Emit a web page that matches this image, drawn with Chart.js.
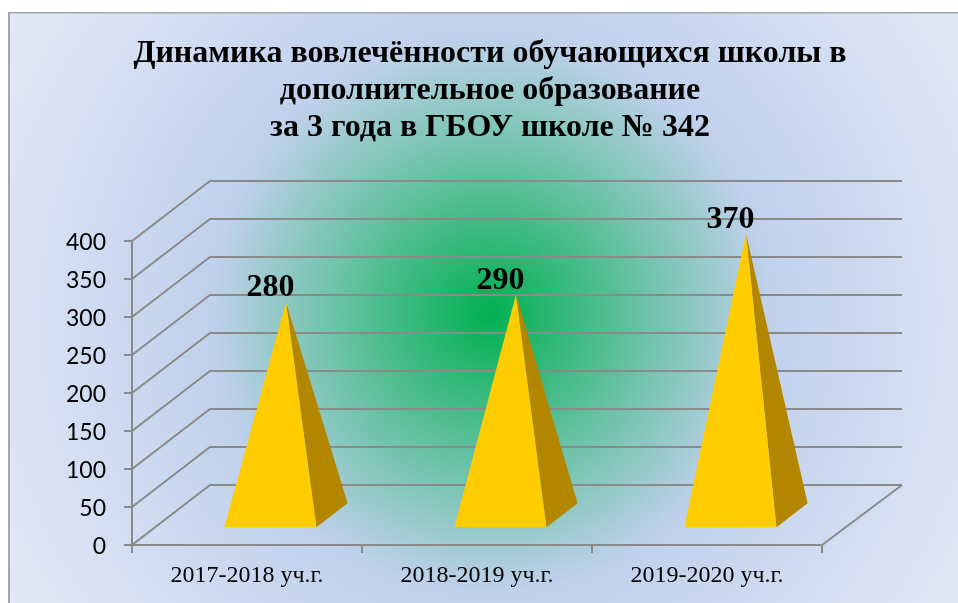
<!DOCTYPE html>
<html lang="ru">
<head>
<meta charset="utf-8">
<title>Динамика вовлечённости</title>
<script src="https://cdn.jsdelivr.net/npm/chart.js@4"></script>
<style>
  html, body { margin: 0; padding: 0; background: #fff; }
  #wrap { width: 958px; height: 603px; }
</style>
</head>
<body>
<div id="wrap"><canvas id="chart" width="958" height="603"></canvas></div>
<script>
const categories = ['2017-2018 уч.г.', '2018-2019 уч.г.', '2019-2020 уч.г.'];
const pupils = [280, 290, 370];
const titleLines = [
  'Динамика вовлечённости обучающихся школы в',
  'дополнительное образование',
  'за 3 года в ГБОУ школе № 342'
];

const COLORS = {
  grid: '#8a8a8a',
  front: '#ffcc00',
  side: '#b38600',
  frame: '#a3a7ad'
};

// oblique depth of the 3D box, px
const DEPTH_X = 78;
const DEPTH_Y = 60;

// page background + frame
const backdrop = {
  id: 'backdrop',
  // title is centred on the whole picture, not on the plot
  afterLayout(chart) {
    chart.titleBlock.left += 79;
    chart.titleBlock.right += 79;
  },
  beforeDraw(chart) {
    const { ctx } = chart;
    ctx.save();
    ctx.fillStyle = '#ffffff';
    ctx.fillRect(0, 0, 958, 603);
    const g = ctx.createRadialGradient(490, 314, 0, 490, 314, 570);
    g.addColorStop(0, '#00b050');
    g.addColorStop(0.49, '#c1d1ec');
    g.addColorStop(1, '#e3eaf6');
    ctx.fillStyle = g;
    ctx.fillRect(9, 12, 949, 591);
    ctx.fillStyle = COLORS.frame;
    ctx.fillRect(8, 12, 950, 1.5);
    ctx.fillRect(8, 12, 2, 591);
    ctx.restore();
  }
};

// walls of the 3D box, taken from the y scale ticks
const box3d = {
  id: 'box3d',
  beforeDatasetsDraw(chart) {
    const { ctx, scales: { x, y } } = chart;
    ctx.save();
    ctx.strokeStyle = COLORS.grid;
    ctx.lineWidth = 2;
    y.ticks.forEach(t => {
      const py = y.getPixelForValue(t.value);
      ctx.beginPath();
      ctx.moveTo(x.left, py);
      ctx.lineTo(x.left + DEPTH_X, py - DEPTH_Y);
      ctx.lineTo(x.right + DEPTH_X + 2, py - DEPTH_Y);
      ctx.stroke();
    });
    // right edge of the floor
    const floor = y.getPixelForValue(0);
    ctx.beginPath();
    ctx.moveTo(x.right, floor);
    ctx.lineTo(x.right + DEPTH_X + 2, floor - DEPTH_Y);
    ctx.stroke();
    ctx.restore();
  }
};

// pyramids and value labels, positioned from the bar elements
const pyramids = {
  id: 'pyramids',
  afterDatasetsDraw(chart) {
    const { ctx } = chart;
    const bars = chart.getDatasetMeta(0).data;
    ctx.save();
    bars.forEach((bar, i) => {
      const half = bar.width / 2;
      const left = bar.x - half + DEPTH_X * 0.3;
      const right = bar.x + half + DEPTH_X * 0.3;
      const base = bar.base - DEPTH_Y * 0.28;
      const apexX = bar.x + DEPTH_X * 0.5;
      const apexY = bar.y - DEPTH_Y * 0.5;

      ctx.fillStyle = COLORS.side;
      ctx.beginPath();
      ctx.moveTo(right, base);
      ctx.lineTo(right + DEPTH_X * 0.4, base - DEPTH_Y * 0.4);
      ctx.lineTo(apexX, apexY);
      ctx.closePath();
      ctx.fill();

      ctx.fillStyle = COLORS.front;
      ctx.beginPath();
      ctx.moveTo(left, base);
      ctx.lineTo(right, base);
      ctx.lineTo(apexX, apexY);
      ctx.closePath();
      ctx.fill();

      ctx.fillStyle = '#000';
      ctx.font = 'bold 32px "Liberation Serif"';
      ctx.textAlign = 'center';
      ctx.textBaseline = 'alphabetic';
      ctx.fillText(String(pupils[i]), bar.x + DEPTH_X * 0.3, apexY - 6);
    });
    ctx.restore();
  }
};

new Chart(document.getElementById('chart'), {
  type: 'bar',
  data: {
    labels: categories,
    datasets: [{
      data: pupils,
      backgroundColor: 'transparent',
      borderWidth: 0,
      barPercentage: 0.4,
      categoryPercentage: 1
    }]
  },
  options: {
    responsive: false,
    animation: false,
    layout: { padding: { left: 0, right: 136, top: 0, bottom: 0 } },
    plugins: {
      legend: { display: false },
      tooltip: { enabled: false },
      title: {
        display: true,
        text: titleLines,
        color: '#000',
        font: { family: '"Liberation Serif"', size: 32, weight: 'bold', lineHeight: 1.156 },
        padding: { top: 35, bottom: 95 }
      }
    },
    scales: {
      x: {
        border: { color: COLORS.grid, width: 2 },
        grid: { color: COLORS.grid, lineWidth: 2, drawOnChartArea: false, tickLength: 8 },
        ticks: { color: '#000', padding: 8, font: { family: '"Liberation Serif"', size: 24 } },
        afterFit(scale) { scale.height = 58; }
      },
      y: {
        min: 0,
        max: 400,
        border: { color: COLORS.grid, width: 2 },
        grid: { color: COLORS.grid, lineWidth: 2, drawOnChartArea: false, tickLength: 8 },
        ticks: { stepSize: 50, color: '#000', padding: 18, labelOffset: 1.5, font: { family: 'Lato', size: 23 } },
        afterFit(scale) { scale.width = 132; }
      }
    }
  },
  plugins: [backdrop, box3d, pyramids]
});
</script>
</body>
</html>
